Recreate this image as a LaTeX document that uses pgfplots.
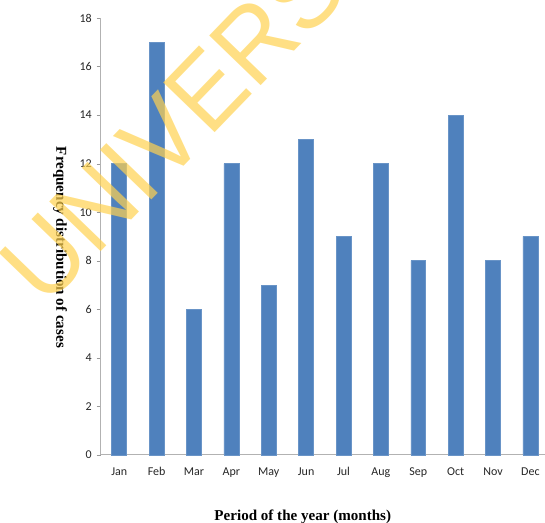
\documentclass[border=0pt]{standalone}
\usepackage{fontspec}
\setmainfont{Carlito}
\newfontfamily\timesfont{Liberation Serif}
\newfontfamily\wmfont{Liberation Sans}
\usepackage{pgfplots}
\pgfplotsset{compat=1.18}
\definecolor{barblue}{RGB}{79,129,189}
\definecolor{wmyellow}{RGB}{255,210,80}
\begin{document}
\begin{tikzpicture}
\path[use as bounding box] (-75.4pt,-51pt) rectangle (333.4pt,341.25pt);
\begin{axis}[
  at={(0,0)}, anchor=south west,
  scale only axis, width=333.4pt, height=327.75pt,
  xmin=-0.5, xmax=11.39, ymin=0, ymax=18,
  axis lines=left, axis line style={-, draw=black!30, line width=0.8pt},
  ytick={0,2,...,18},
  xtick={0,...,11},
  xticklabels={Jan,Feb,Mar,Apr,May,Jun,Jul,Aug,Sep,Oct,Nov,Dec},
  extra x ticks={-0.5,0.5,...,11.5},
  extra x tick labels={},
  extra x tick style={major tick length=3pt, tick style={draw=black!40}},
  x tick style={draw=none},
  y tick style={draw=black!40},
  tick align=outside, major tick length=3pt,
  ticklabel style={font=\fontsize{9}{10}\selectfont, text=black!85},
  xticklabel style={yshift=-3pt},
  /pgf/number format/assume math mode=true,
  xlabel={\timesfont\bfseries Period of the year (months)},
  xlabel style={at={(axis description cs:0.455,-0.142)}, anchor=center, font=\fontsize{11.3}{13}\selectfont},
  ylabel={\timesfont\bfseries Frequency distribution of cases},
  ylabel style={at={(axis description cs:-0.091,0.475)}, anchor=center, rotate=180, font=\fontsize{11.3}{13}\selectfont},
  clip=false,
]
\addplot[ybar, bar width=11.2pt, fill=barblue, draw=barblue!85!white] coordinates {
(0,12) (1,17) (2,6) (3,12) (4,7) (5,13) (6,9) (7,12) (8,8) (9,14) (10,8) (11,9)
};
\end{axis}
\node[rotate=46, anchor=west, text=wmyellow, opacity=0.7, inner sep=0pt,
  font=\wmfont\fontsize{78}{80}\selectfont] at (-60.4pt,128.25pt) {\scalebox{0.95}[1]{UNIVERSITY}};
\end{tikzpicture}
\end{document}
